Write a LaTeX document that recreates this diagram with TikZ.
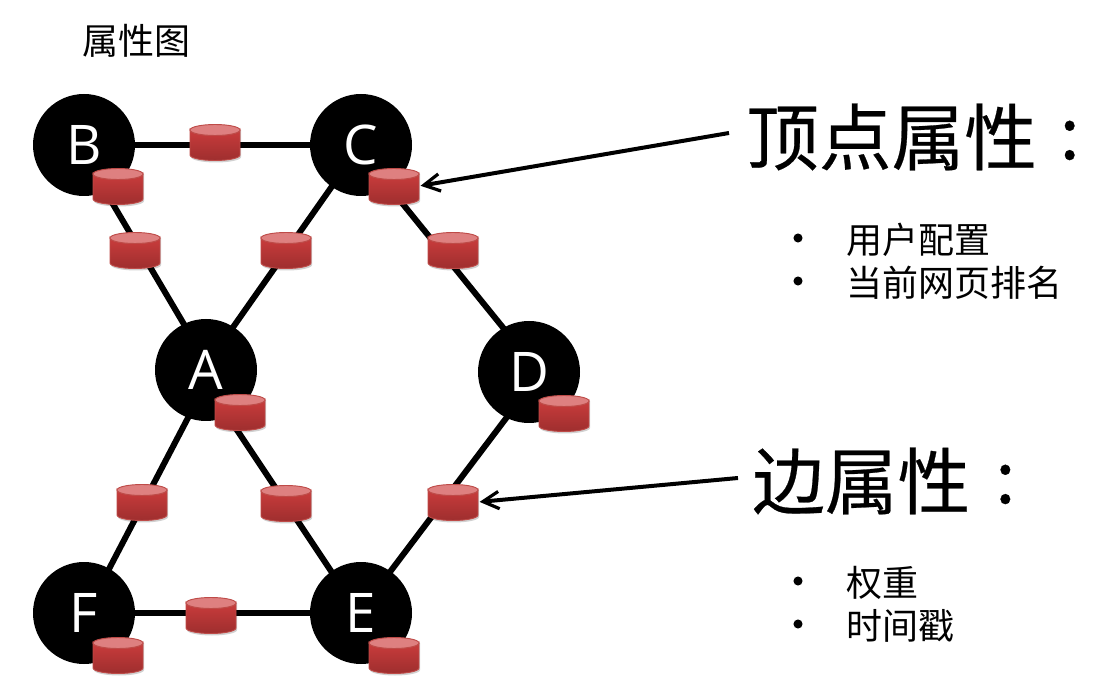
\documentclass[tikz,border=0pt]{standalone}
\usepackage{fontspec}
\setmainfont{Open Sans}
\newfontfamily\cjk{Noto Sans CJK SC}
\newfontfamily\cjkh[FakeBold=0.35]{Noto Sans CJK SC}
\usetikzlibrary{arrows.meta,backgrounds}
\definecolor{drumtop}{HTML}{DE8080}
\definecolor{drumhi}{HTML}{C93C3C}
\definecolor{drumlo}{HTML}{9E2E2E}
\definecolor{drumedge}{HTML}{BE4B48}
\tikzset{
  vertex/.style={circle,fill=black,text=white,minimum size=76.5pt,inner sep=0pt,
    font=\fontsize{41}{41}\selectfont},
  link/.style={line width=4.5pt,black},
  pointer/.style={line width=3pt,black,-{Straight Barb[length=12pt,width=13pt,line width=2.4pt]},shorten >=1pt},
  drumbox/.style={rectangle,minimum width=37.5pt,minimum height=27pt,inner sep=0pt},
  heading/.style={font=\cjkh\fontsize{54.5}{54.5}\selectfont,anchor=west,inner sep=0pt},
  small/.style={font=\cjk\fontsize{27}{27}\selectfont,anchor=west,inner sep=0pt},
  dot/.style={circle,fill=black,minimum size=6.8pt,inner sep=0pt},
}
% A small red drum with a lit top, centred on the given point; its anchor is a named node.
\newcommand{\drum}[2]{%
  \fill[black,opacity=.18] ([shift={(-24,-12)}]#2) -- ++(50,0) -- ++(0,27)
     arc[start angle=0,end angle=180,x radius=25,y radius=5.5] -- cycle;
  \shade[top color=drumhi,bottom color=drumlo,draw=drumedge,line width=.7pt]
     ([shift={(-25,-12)}]#2) -- ++(0,25)
     arc[start angle=180,end angle=0,x radius=25,y radius=5.5]
     -- ++(0,-25)
     arc[start angle=0,end angle=180,x radius=25,y radius=5.5] -- cycle;
  \fill[drumtop,draw=drumedge,line width=.7pt] ([shift={(0,-12)}]#2) ellipse[x radius=25,y radius=5.5];
  \node[drumbox] (#1) at (#2) {};
}
\begin{document}
\begin{tikzpicture}[x=.75pt,y=-.75pt]
\useasboundingbox (0,0) rectangle (1093,691);

\node[font=\cjk\fontsize{27}{27}\selectfont,anchor=west,inner sep=0pt] (title) at (82,41) {属性图};

% vertices
\node[vertex] (B) at (84,145) {B};
\node[vertex] (C) at (361,145) {C};
\node[vertex] (A) at (206,370) {A};
\node[vertex] (D) at (529,372) {D};
\node[vertex] (F) at (84,613) {F};
\node[vertex] (E) at (361,613) {E};

% edges sit behind the discs, so their off-centre ends stay hidden
\begin{scope}[on background layer]
\fill[white] (0,0) rectangle (1093,691);
\draw[link] (B) -- (C);
\draw[link] ([shift={(-6,0)}]B.center) -- ([shift={(5,0)}]A.center);
\draw[link] (C.center) -- ([shift={(-3,0)}]A.center);
\draw[link] ([shift={(-6,0)}]C.center) -- ([shift={(10,0)}]D.center);
\draw[link] ([shift={(7,0)}]A.center) -- ([shift={(2,0)}]F.center);
\draw[link] ([shift={(-9,0)}]A.center) -- ([shift={(-2,0)}]E.center);
\draw[link] ([shift={(12,0)}]D.center) -- ([shift={(-2,0)}]E.center);
\draw[link] (F) -- (E);
\end{scope}

% edge properties
\drum{bc}{215,142}
\drum{ba}{135,250}
\drum{ca}{286,250}
\drum{cd}{453,250}
\drum{af}{142,502}
\drum{ae}{286,503}
\drum{de}{453,502}
\drum{fe}{211,615}

% vertex properties
\drum{pb}{118,186}
\drum{pc}{394,186}
\drum{pa}{240,412}
\drum{pd}{564,413}
\drum{pf}{118,655}
\drum{pe}{394,655}

% right-hand captions
\node[heading] (vtitle) at (746,137) {顶点属性\hspace{17pt}\raisebox{4pt}{:}};
\node[heading] (etitle) at (752,481) {边属性\hspace{18.75pt}\raisebox{4pt}{:}};

\coordinate (vtail) at (729,133);
\coordinate (etail) at (738,478);
\draw[pointer] (vtail) -- (pc.east);
\draw[pointer] (etail) -- (de.east);

\node[dot] (d1) at (798,238) {};
\node[dot] (d2) at (798,281) {};
\node[small] (t1) at (846,240) {用户配置};
\node[small] (t2) at (846,283) {当前网页排名};
\node[dot] (d3) at (798,581) {};
\node[dot] (d4) at (798,624) {};
\node[small] (t3) at (846,583) {权重};
\node[small] (t4) at (846,626) {时间戳};
\end{tikzpicture}
\end{document}
